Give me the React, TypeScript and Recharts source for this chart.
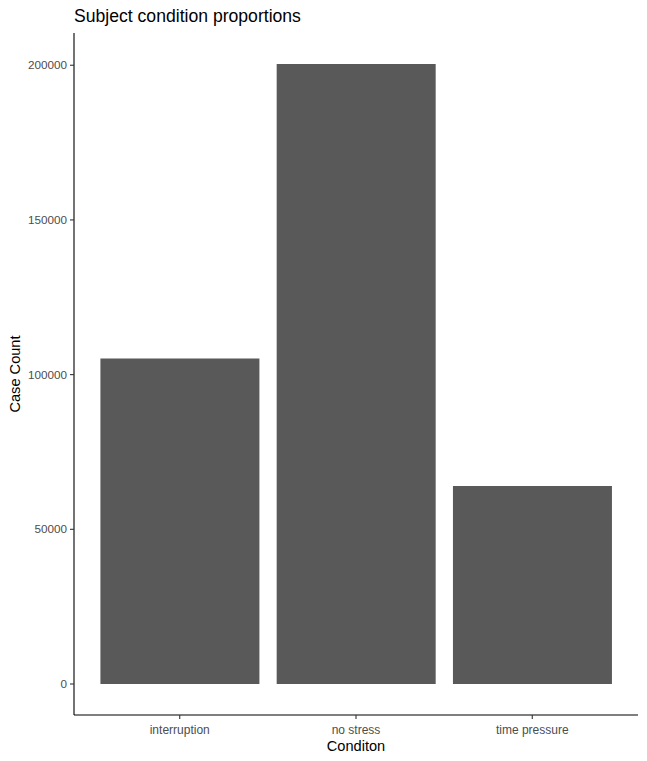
import { BarChart, Bar, XAxis, YAxis, Label } from "recharts";

const conditions = ["interruption", "no stress", "time pressure"];
const caseCounts = [105200, 200400, 64000];
const yTicks = [0, 50000, 100000, 150000, 200000];

const FONT = '"Liberation Sans", Arial, sans-serif';

const data = conditions.map((c, i) => ({ condition: c, count: caseCounts[i] }));

export default function App() {
  return (
    <div
      style={{
        position: "absolute",
        left: 0,
        top: 0,
        width: 647,
        height: 761,
        background: "#fff",
        fontFamily: FONT,
      }}
    >
      {/* plot title, left aligned to the panel like ggplot */}
      <div
        style={{
          position: "absolute",
          left: 74,
          top: 5,
          fontSize: 17.6,
          color: "#000",
          lineHeight: "22px",
        }}
      >
        Subject condition proportions
      </div>
      <BarChart
        width={647}
        height={761}
        data={data}
        margin={{ top: 33, right: 9, bottom: 0, left: 0 }}
        barCategoryGap="5%"
        style={{ fontFamily: FONT }}
      >
        <XAxis
          dataKey="condition"
          height={46}
          padding={{ left: 17.6, right: 17.6 }}
          axisLine={{ stroke: "#000", strokeWidth: 1.1 }}
          tickLine={{ stroke: "#333", strokeWidth: 1.1 }}
          tickSize={4}
          tickMargin={6}
          tick={{ fill: "#4d4d4d", fontSize: 12 }}
        >
          <Label
            content={() => (
              <text
                x={356}
                y={751}
                textAnchor="middle"
                fontSize={14.6}
                fill="#000"
                fontFamily={FONT}
              >
                Conditon
              </text>
            )}
          />
        </XAxis>
        <YAxis
          type="number"
          width={74}
          domain={[-10020, 210420]}
          ticks={yTicks}
          interval={0}
          axisLine={{ stroke: "#000", strokeWidth: 1.1 }}
          tickLine={{ stroke: "#333", strokeWidth: 1.1 }}
          tickSize={4}
          tickMargin={3}
          tick={{ fill: "#4d4d4d", fontSize: 11.7 }}
        >
          <Label
            content={() => (
              <text
                x={20}
                y={374}
                transform="rotate(-90 20 374)"
                textAnchor="middle"
                fontSize={14.6}
                fill="#000"
                fontFamily={FONT}
              >
                Case Count
              </text>
            )}
          />
        </YAxis>
        <Bar dataKey="count" fill="#595959" isAnimationActive={false} />
      </BarChart>
    </div>
  );
}
